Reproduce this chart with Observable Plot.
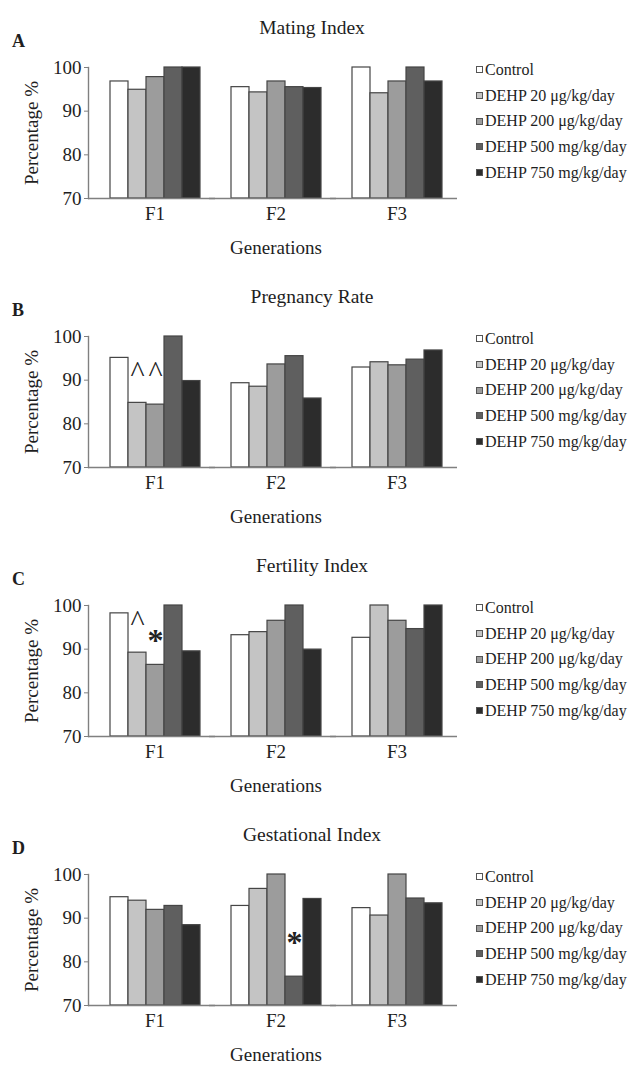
<!DOCTYPE html>
<html>
<head>
<meta charset="utf-8">
<script src="https://cdn.jsdelivr.net/npm/d3@7"></script>
<script src="https://cdn.jsdelivr.net/npm/@observablehq/plot@0.6"></script>
<style>
  html, body { margin: 0; padding: 0; background: #fff; }
  body { width: 632px; height: 1065px; position: relative; overflow: hidden; font-family: "Liberation Serif", serif; color: #1e1e1e; }
  .panel { position: absolute; left: 0; width: 632px; height: 269px; }
  .title { position: absolute; left: 0; width: 624px; text-align: center; top: 18px; font-size: 19.5px; line-height: 20px; }
  .letter { position: absolute; left: 12px; top: 32px; font-size: 18px; line-height: 18px; font-weight: bold; }
  .legend { position: absolute; left: 476px; top: 57px; }
  .legend .row { height: 25.7px; display: flex; align-items: center; font-size: 16px; white-space: nowrap; }
  .legend .sw { width: 5px; height: 5px; border: 1px solid #555; margin-right: 2px; flex: none; }
</style>
</head>
<body>
<script>
const generations = ["F1", "F2", "F3"];
const treatments = ["Control", "DEHP 20 μg/kg/day", "DEHP 200 μg/kg/day", "DEHP 500 mg/kg/day", "DEHP 750 mg/kg/day"];
const treatmentColors = ["#ffffff", "#c4c4c4", "#9c9c9c", "#5f5f5f", "#2c2c2c"];
const panelLetters = ["A", "B", "C", "D"];
const panelTitles = ["Mating Index", "Pregnancy Rate", "Fertility Index", "Gestational Index"];
const yTicks = [70, 80, 90, 100];

// values per generation (F1, F2, F3), each listing the five treatments
const matingIndex      = [[96.8, 94.9, 97.8, 100, 100], [95.5, 94.3, 96.8, 95.5, 95.3], [100, 94.1, 96.8, 100, 96.8]];
const pregnancyRate    = [[95.1, 84.8, 84.4, 100, 89.8], [89.3, 88.5, 93.6, 95.5, 85.8], [92.9, 94.1, 93.4, 94.7, 96.8]];
const fertilityIndex   = [[98.2, 89.2, 86.4, 100, 89.5], [93.2, 93.9, 96.5, 100, 89.9], [92.6, 100, 96.5, 94.6, 100]];
const gestationalIndex = [[94.8, 94.0, 91.9, 92.8, 88.4], [92.8, 96.7, 100, 76.6, 94.4], [92.3, 90.6, 100, 94.5, 93.4]];

// significance marks: panel index, generation, treatment index, level (in %)
const caretMarks = [
  {panel: 1, gen: "F1", t: 1, level: 93.0},
  {panel: 1, gen: "F1", t: 2, level: 93.0},
  {panel: 2, gen: "F1", t: 1, level: 97.6}
];
const starMarks = [
  {panel: 2, gen: "F1", t: 2, level: 93.8},
  {panel: 3, gen: "F2", t: 3, level: 86.2}
];

const panelValues = [matingIndex, pregnancyRate, fertilityIndex, gestationalIndex];

panelValues.forEach((vals, p) => {
  const panel = document.createElement("div");
  panel.className = "panel";
  panel.style.top = (p * 269) + "px";
  document.body.appendChild(panel);

  const title = document.createElement("div");
  title.className = "title";
  title.textContent = panelTitles[p];
  panel.appendChild(title);

  const letter = document.createElement("div");
  letter.className = "letter";
  letter.textContent = panelLetters[p];
  panel.appendChild(letter);

  const data = [];
  generations.forEach((g, gi) => treatments.forEach((t, ti) => data.push({gen: g, treatment: t, value: vals[gi][ti]})));
  const carets = caretMarks.filter(d => d.panel === p).map(d => ({gen: d.gen, treatment: treatments[d.t], level: d.level}));
  const stars = starMarks.filter(d => d.panel === p).map(d => ({gen: d.gen, treatment: treatments[d.t], level: d.level}));

  const chart = Plot.plot({
    width: 470,
    height: 211,
    marginLeft: 93,
    marginRight: 13,
    marginTop: 20,
    marginBottom: 60,
    style: {fontFamily: "Liberation Serif", fontSize: "19px", color: "#1e1e1e", background: "transparent"},
    fx: {domain: generations, padding: 0},
    x: {domain: treatments, paddingInner: 0, paddingOuter: 0.726, align: 0.5, axis: null},
    y: {domain: [yTicks[0], yTicks[yTicks.length - 1]]},
    color: {domain: treatments, range: treatmentColors},
    marks: [
      Plot.barY(data, {fx: "gen", x: "treatment", y1: () => yTicks[0], y2: "value", fill: "treatment", stroke: "#454545", strokeWidth: 1.2}),
      Plot.ruleY([yTicks[0]], {stroke: "#808080", strokeWidth: 1.4, insetLeft: -6}),
      Plot.frame({anchor: "left", dx: -6, stroke: "#808080", strokeWidth: 1.4, facetAnchor: "left"}),
      Plot.axisY(yTicks, {anchor: "left", dx: -6, tickSize: 4, tickPadding: 3, stroke: "#808080", fontSize: 19,
        label: "Percentage %", labelArrow: "none", labelAnchor: "center", labelOffset: 70}),
      Plot.axisFx({anchor: "bottom", tickSize: 0, tickPadding: 8, fontSize: 19, label: "Generations", labelArrow: "none", labelAnchor: "center", labelOffset: 55}),
      Plot.text(carets, {fx: "gen", x: "treatment", y: "level", text: () => "^", fontSize: 30, dy: 5, fill: "#222"}),
      Plot.text(stars, {fx: "gen", x: "treatment", y: "level", text: () => "*", fontSize: 32, fontWeight: "bold", dy: 8, fill: "#222"})
    ]
  });
  chart.style.position = "absolute";
  chart.style.left = "0px";
  chart.style.top = "47px";
  panel.appendChild(chart);

  const legend = document.createElement("div");
  legend.className = "legend";
  treatments.forEach((t, i) => {
    const row = document.createElement("div");
    row.className = "row";
    const sw = document.createElement("span");
    sw.className = "sw";
    sw.style.background = treatmentColors[i];
    const lab = document.createElement("span");
    lab.textContent = t;
    row.appendChild(sw);
    row.appendChild(lab);
    legend.appendChild(row);
  });
  panel.appendChild(legend);
});
</script>
</body>
</html>
